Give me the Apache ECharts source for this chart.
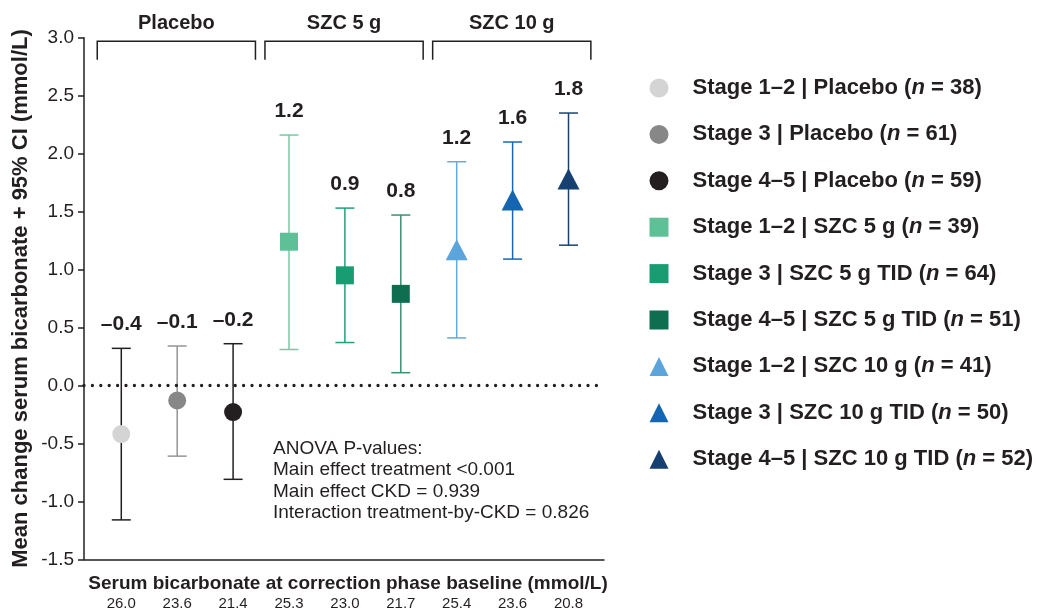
<!DOCTYPE html>
<html><head><meta charset="utf-8">
<script src="https://cdn.jsdelivr.net/npm/echarts@6/dist/echarts.min.js"></script>
<style>html,body{margin:0;padding:0;background:#fff}#c{width:1037px;height:612px}</style>
</head><body><div id="c"></div>
<script>
// ---- data ----
const groupNames = ['Placebo', 'SZC 5 g', 'SZC 10 g'];
const groupCenters = [2, 5, 8];
const seriesNames = [
  'Stage 1–2 | Placebo (n = 38)',
  'Stage 3 | Placebo (n = 61)',
  'Stage 4–5 | Placebo (n = 59)',
  'Stage 1–2 | SZC 5 g (n = 39)',
  'Stage 3 | SZC 5 g TID (n = 64)',
  'Stage 4–5 | SZC 5 g TID (n = 51)',
  'Stage 1–2 | SZC 10 g (n = 41)',
  'Stage 3 | SZC 10 g TID (n = 50)',
  'Stage 4–5 | SZC 10 g TID (n = 52)'
];
const positions = [1, 2, 3, 4, 5, 6, 7, 8, 9];
const means = [-0.42, -0.13, -0.23, 1.24, 0.95, 0.79, 1.17, 1.60, 1.78];
const lowerCI = [-1.16, -0.61, -0.81, 0.31, 0.37, 0.11, 0.41, 1.09, 1.21];
const upperCI = [0.32, 0.34, 0.36, 2.16, 1.53, 1.47, 1.93, 2.10, 2.35];
const baselineLabels = ['26.0', '23.6', '21.4', '25.3', '23.0', '21.7', '25.4', '23.6', '20.8'];
const anovaLines = [
  'ANOVA P-values:',
  'Main effect treatment <0.001',
  'Main effect CKD = 0.939',
  'Interaction treatment-by-CKD = 0.826'
];

// ---- styles ----
const FONT = 'Liberation Sans, Arial, Helvetica, sans-serif';
const INK = '#231f20';
const symbols = ['circle', 'circle', 'circle', 'rect', 'rect', 'rect', 'triangle', 'triangle', 'triangle'];
const symbolSizes = [18, 18, 18, 18, 18, 18, [22, 21], [22, 21], [22, 21]];
const markerColors = ['#d4d4d4', '#878787', '#231f20', '#5ec096', '#1a9c72', '#0f6e4f', '#5ca5dc', '#1565b0', '#15406f'];
const barColors = ['#231f20', '#959595', '#231f20', '#74cba6', '#22a078', '#3d8f72', '#62aae0', '#1a68b2', '#1a426f'];

function fmt(v) {
  const s = Math.abs(v).toFixed(1);
  return (v < 0 ? '–' : '') + s;
}

const chart = echarts.init(document.getElementById('c'), null, { renderer: 'canvas' });

const scatterSeries = seriesNames.map((name, i) => ({
  name: name,
  type: 'scatter',
  symbol: symbols[i],
  symbolSize: symbolSizes[i],
  itemStyle: { color: markerColors[i], opacity: 1 },
  z: 5,
  silent: true,
  data: [[positions[i], means[i]]]
}));

const errorSeries = {
  type: 'custom',
  z: 3,
  silent: true,
  clip: false,
  data: positions.map((p, i) => [p, lowerCI[i], upperCI[i], means[i], i]),
  renderItem: function (params, api) {
    const i = api.value(4);
    const lo = api.coord([api.value(0), api.value(1)]);
    const hi = api.coord([api.value(0), api.value(2)]);
    const cw = 9.5;
    const st = { stroke: barColors[i], lineWidth: 1.5, fill: null };
    return {
      type: 'group',
      children: [
        { type: 'line', shape: { x1: lo[0], y1: lo[1], x2: hi[0], y2: hi[1] }, style: st },
        { type: 'line', shape: { x1: lo[0] - cw, y1: lo[1], x2: lo[0] + cw, y2: lo[1] }, style: st },
        { type: 'line', shape: { x1: hi[0] - cw, y1: hi[1], x2: hi[0] + cw, y2: hi[1] }, style: st },
        { type: 'text', x: hi[0], y: hi[1] - 24,
          style: { text: fmt(api.value(3)), font: 'bold 21px ' + FONT, fill: INK, align: 'center', verticalAlign: 'middle' } }
      ]
    };
  },
  markLine: {
    silent: true,
    symbol: 'none',
    label: { show: false },
    lineStyle: { color: INK, width: 3.3, type: [0, 8.4], cap: 'round' },
    data: [{ yAxis: 0 }]
  }
};

const bracketSeries = {
  type: 'custom',
  silent: true,
  clip: false,
  z: 2,
  data: groupCenters.map((c, i) => [c, i]),
  renderItem: function (params, api) {
    const c = api.value(0);
    const i = api.value(1);
    const tl = api.coord([c - 1.43, 2.97]);
    const tr = api.coord([c + 1.40, 2.97]);
    const bl = api.coord([c - 1.43, 2.81]);
    return {
      type: 'group',
      children: [
        { type: 'polyline', shape: { points: [[tl[0], bl[1]], [tl[0], tl[1]], [tr[0], tr[1]], [tr[0], bl[1]]] },
          style: { stroke: INK, lineWidth: 1.5, fill: null } },
        { type: 'text', x: (tl[0] + tr[0]) / 2, y: tl[1] - 18,
          style: { text: groupNames[i], font: 'bold 20px ' + FONT, fill: INK, align: 'center', verticalAlign: 'middle' } }
      ]
    };
  }
};

const option = {
  animation: false,
  backgroundColor: '#fff',
  textStyle: { fontFamily: FONT, color: INK },
  grid: { left: 84, right: 433, top: 37.7, bottom: 52.7, containLabel: false, outerBoundsMode: 'none' },
  xAxis: {
    type: 'value',
    min: 0.333,
    max: 9.635,
    splitLine: { show: false },
    axisTick: { show: false },
    axisLine: { onZero: false, lineStyle: { color: INK, width: 1.5 } },
    axisLabel: {
      customValues: positions,
      formatter: v => baselineLabels[Math.round(v) - 1],
      fontSize: 15, color: INK, margin: 37, fontFamily: FONT
    },
    name: 'Serum bicarbonate at correction phase baseline (mmol/L)',
    nameLocation: 'middle',
    nameGap: 15,
    nameMoveOverlap: false,
    nameTextStyle: { fontSize: 19, fontWeight: 'bold', color: INK, fontFamily: FONT, padding: [0, 0, 0, 8] }
  },
  yAxis: {
    type: 'value',
    min: -1.5,
    max: 3.0,
    interval: 0.5,
    splitLine: { show: false },
    axisLine: { show: true, onZero: false, lineStyle: { color: INK, width: 1.5 } },
    axisTick: { show: true, length: 6, lineStyle: { color: INK, width: 1.5 } },
    axisLabel: { formatter: v => v.toFixed(1), fontSize: 19, color: INK, margin: 10, fontFamily: FONT },
    name: 'Mean change serum bicarbonate + 95% CI (mmol/L)',
    nameLocation: 'middle',
    nameGap: 52,
    nameMoveOverlap: false,
    nameTextStyle: { fontSize: 22, fontWeight: 'bold', color: INK, fontFamily: FONT }
  },
  legend: {
    orient: 'vertical',
    left: 644.5,
    top: 72,
    itemWidth: 19,
    itemHeight: 19,
    itemGap: 24.4,
    selectedMode: false,
    data: seriesNames,
    formatter: function (name) {
      const k = name.indexOf('(n =');
      return '{sp|}{b|' + name.slice(0, k + 1) + '}{i|n}{b|' + name.slice(k + 2) + '}';
    },
    textStyle: {
      rich: {
        sp: { width: 19, lineHeight: 24 },
        b: { fontSize: 22, fontWeight: 'bold', color: INK, fontFamily: FONT, lineHeight: 24 },
        i: { fontSize: 22, fontWeight: 'bold', fontStyle: 'italic', color: INK, fontFamily: FONT, lineHeight: 24 }
      }
    }
  },
  graphic: [{
    type: 'text',
    left: 273,
    top: 438,
    silent: true,
    style: { text: anovaLines.join('\n'), font: '19px ' + FONT, fill: INK, lineHeight: 21.5 }
  }],
  series: [bracketSeries, errorSeries].concat(scatterSeries)
};
chart.setOption(option);
</script>
</body></html>
